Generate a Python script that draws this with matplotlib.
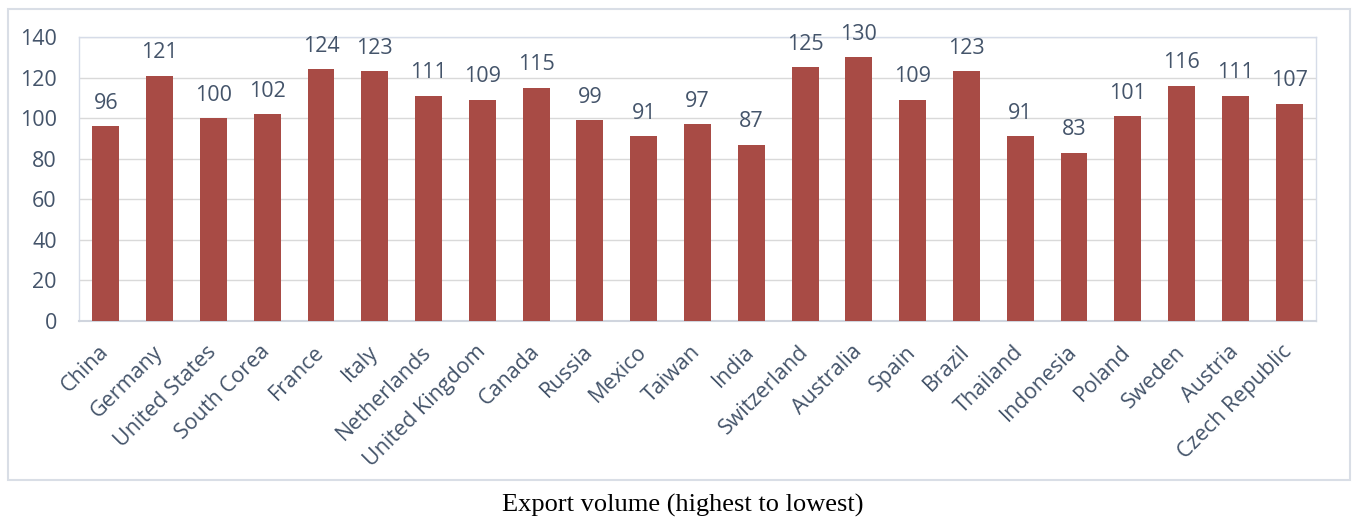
import matplotlib.pyplot as plt
from matplotlib.patches import Rectangle

countries = ['China', 'Germany', 'United States', 'South Corea', 'France', 'Italy',
             'Netherlands', 'United Kingdom', 'Canada', 'Russia', 'Mexico', 'Taiwan',
             'India', 'Switzerland', 'Australia', 'Spain', 'Brazil', 'Thailand',
             'Indonesia', 'Poland', 'Sweden', 'Austria', 'Czech Republic']
values = [96, 121, 100, 102, 124, 123, 111, 109, 115, 99, 91, 97,
          87, 125, 130, 109, 123, 91, 83, 101, 116, 111, 107]
yticks = [0, 20, 40, 60, 80, 100, 120, 140]

bar_color = '#A84B45'
text_color = '#44546A'
plt.rcParams['font.family'] = ['Open Sans', 'DejaVu Sans']

fig = plt.figure(figsize=(13.55, 5.2), dpi=100)
ax = fig.add_axes([79 / 1355, 1 - 321 / 520, (1316 - 79) / 1355, (321 - 37) / 520])

x = range(len(countries))
ax.bar(x, values, width=0.5, color=bar_color, zorder=3)
for xi, v in zip(x, values):
    ax.annotate(str(v), (xi, v), xytext=(0, 9), textcoords='offset points',
                ha='center', va='bottom', fontsize=15.5, color=text_color)

ax.set_xlim(-0.5, len(countries) - 0.5)
ax.set_ylim(0, 140)
ax.set_yticks(yticks)
ax.set_xticks(list(x))
ax.set_xticklabels(countries, rotation=45, ha='right', va='center',
                   rotation_mode='anchor', fontsize=15.5, color=text_color)
ax.tick_params(axis='y', labelsize=15.5, labelcolor=text_color, length=0, pad=16)
ax.tick_params(axis='x', length=0, pad=20)
ax.grid(axis='y', color='#D9D9D9', linewidth=1, zorder=0)
for side in ax.spines.values():
    side.set_color('#D6DCE8')
    side.set_linewidth(1)
ax.spines['bottom'].set_color('#D0D5DE')
ax.spines['bottom'].set_linewidth(1.5)

# outer chart frame
fig.patches.append(Rectangle((8 / 1355, 1 - 480 / 520), (1350 - 8) / 1355, (480 - 9) / 520,
                             transform=fig.transFigure, fill=False,
                             edgecolor='#D9DEE6', linewidth=1.5))

fig.text(683 / 1355, 1 - 505 / 520, 'Export volume (highest to lowest)', ha='center',
         va='center', fontsize=19, family='Liberation Serif', color='black')

fig.savefig('out.png', dpi=100)
